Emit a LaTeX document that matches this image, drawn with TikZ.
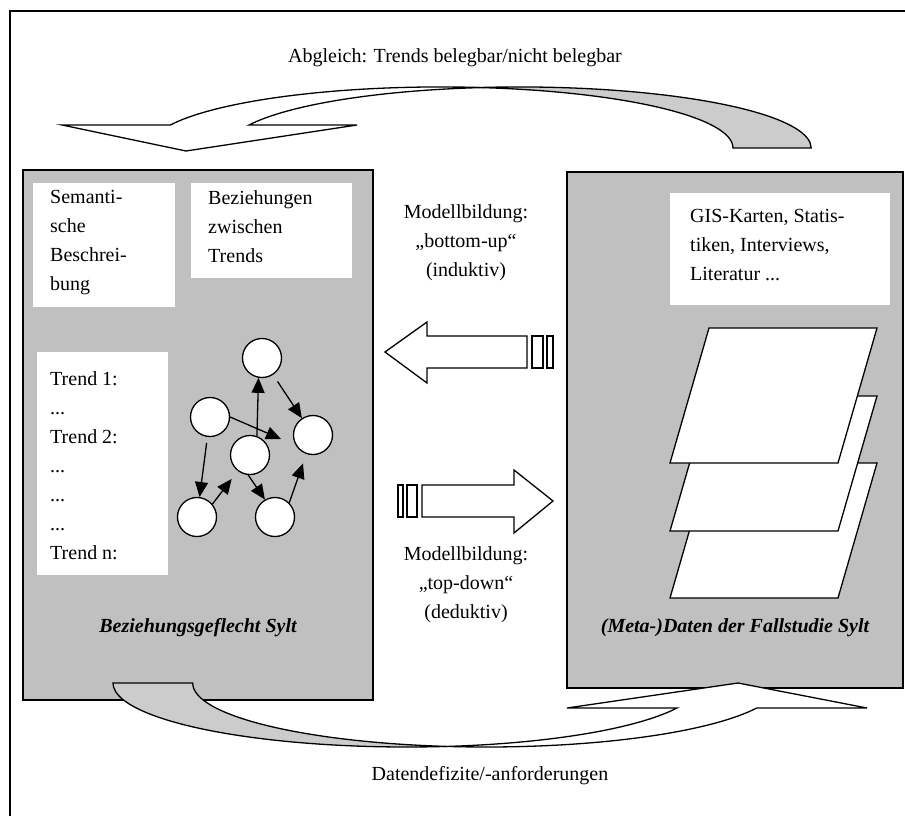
\documentclass[tikz,border=0pt]{standalone}
\usepackage{fontspec}
\setmainfont{Liberation Serif}
\usetikzlibrary{calc,arrows.meta}
\definecolor{panelgray}{HTML}{C0C0C0}
\definecolor{shadegray}{HTML}{CCCCCC}
\def\figfont{\fontsize{20}{29}\selectfont}
\tikzset{
	panel/.style={fill=panelgray, draw=black, line width=1.5pt},
	whitebox/.style={fill=white, draw=none},
	txt/.style={font=\figfont, inner sep=0pt, align=left, anchor=north west},
	midtext/.style={font=\figfont, inner sep=0pt, align=center, anchor=north},
	paneltitle/.style={font=\figfont\bfseries\itshape, inner sep=0pt, anchor=base},
	ball/.style={circle, draw=black, fill=white, line width=1.3pt, minimum size=39pt, inner sep=0pt},
	link/.style={line width=1.3pt, -{Triangle[length=15pt,width=13pt]}},
	ribbon/.style={draw=black, line width=1.3pt, line join=miter},
	sheet/.style={fill=white, draw=black, line width=1.3pt},
}

\begin{document}
\begin{tikzpicture}[x=1pt, y=-1pt]
		%%%%% START %%%%%
		\useasboundingbox (0,0) rectangle (905,816);
		
		\draw[line width=1.5pt] (10,816) -- (10,11) -- (905,11);
		
		\node[font=\figfont, inner sep=0pt, anchor=base] (abgleich) at (455,63) {Abgleich: Trends belegbar/nicht belegbar};
		
		% top arrow
		\draw[ribbon, fill=shadegray] (480,87.5) arc[start angle=-97.7, end angle=0, x radius=292, y radius=61]
			-- (733,148) arc[start angle=0, end angle=-82.3, x radius=292, y radius=61] -- cycle;
		\draw[ribbon, fill=white] (480,87.5) arc[start angle=-82.3, end angle=-157.8, x radius=292, y radius=61]
			-- (62,125) -- (186,151) -- (357,125) -- (249,125)
			arc[start angle=-157.8, end angle=-97.7, x radius=292, y radius=61] -- cycle;
		
		% left and right panel
		\draw[panel] (23,170) rectangle (373,700);
		\draw[panel] (567,172) rectangle (903,688);
		
		\fill[whitebox] (33,183) rectangle (175,307);
		\fill[whitebox] (191,183) rectangle (352,278);
		\fill[whitebox] (37,352) rectangle (168,575);
		\fill[whitebox] (670,193) rectangle (890,305);
		
		\node[txt] (semantik) at (50,190) {Semanti-\\sche\\Beschrei-\\bung};
		\node[txt] (beziehung) at (208,190) {Beziehungen\\zwischen\\Trends};
		\node[txt] (trends) at (50,371) {Trend 1:\\...\\Trend 2:\\...\\...\\...\\Trend n:};
		\node[txt] (quellen) at (690,209) {GIS-Karten, Statis-\\tiken, Interviews,\\Literatur ...};
		
		\node[paneltitle] (geflecht) at (198,632) {Beziehungsgeflecht Sylt};
		\node[paneltitle] (metadaten) at (735,632) {(Meta-)Daten der Fallstudie Sylt};
		
		% trend graph
		\node[ball] (topball) at (262,358) {};
		\node[ball] (leftball) at (210,417) {};
		\node[ball] (midball) at (250,455) {};
		\node[ball] (rightball) at (313,435) {};
		\node[ball] (lowleft) at (197,517) {};
		\node[ball] (lowright) at (275,517) {};
		\coordinate (gap) at (281,439);
		
		\draw[link] (midball.70) -- (topball.-100);
		\draw[link, shorten <=8pt] (topball) -- (rightball);
		\draw[link] (leftball.east) -- (gap);
		\draw[link, shorten <=6pt] (leftball) -- (lowleft);
		\draw[link, shorten >=10pt] (lowleft.40) -- (midball);
		\draw[link] (midball.-95) -- (lowright.120);
		\draw[link, shorten >=10pt] (lowright.45) -- (rightball);
		
		% data layers
		\foreach \y in {463,396,328}
			\draw[sheet] (709,\y) -- (877,\y) -- (838,{\y+135}) -- (670,{\y+135}) -- cycle;
		
		% model building arrows
		\node[midtext] (induktiv) at (466,204) {Modellbildung:\\„bottom-up“\\(induktiv)};
		\draw[ribbon, fill=white] (385,352) -- (427,322) -- (427,336) -- (527,336) -- (527,368) -- (427,368) -- (427,383) -- cycle;
		\draw[ribbon, fill=white] (532,336) rectangle (543,368);
		\draw[ribbon, fill=white] (547,336) rectangle (553,368);
		
		\draw[ribbon, fill=white] (398,485) rectangle (403,517);
		\draw[ribbon, fill=white] (407,485) rectangle (417,517);
		\draw[ribbon, fill=white] (422,485) -- (514,485) -- (514,470) -- (553,501) -- (514,533) -- (514,517) -- (422,517) -- cycle;
		\node[midtext] (deduktiv) at (466,546) {Modellbildung:\\„top-down“\\(deduktiv)};
		
		% bottom arrow
		\draw[ribbon, fill=shadegray] (113,683) arc[start angle=180, end angle=82.2, x radius=293.6, y radius=64]
			arc[start angle=97.8, end angle=180, x radius=293.6, y radius=64] -- cycle;
		\draw[ribbon, fill=white] (446.6,746.4) arc[start angle=97.8, end angle=22.96, x radius=293.6, y radius=64]
			-- (867,708) -- (738,683) -- (567,708) -- (677,708)
			arc[start angle=22.96, end angle=82.2, x radius=293.6, y radius=64] -- cycle;
		
		\node[font=\figfont, inner sep=0pt, anchor=base] (defizite) at (490,780) {Datendefizite/-anforderungen};
		
		%%%%% END %%%%%
	\end{tikzpicture}
\end{document}
